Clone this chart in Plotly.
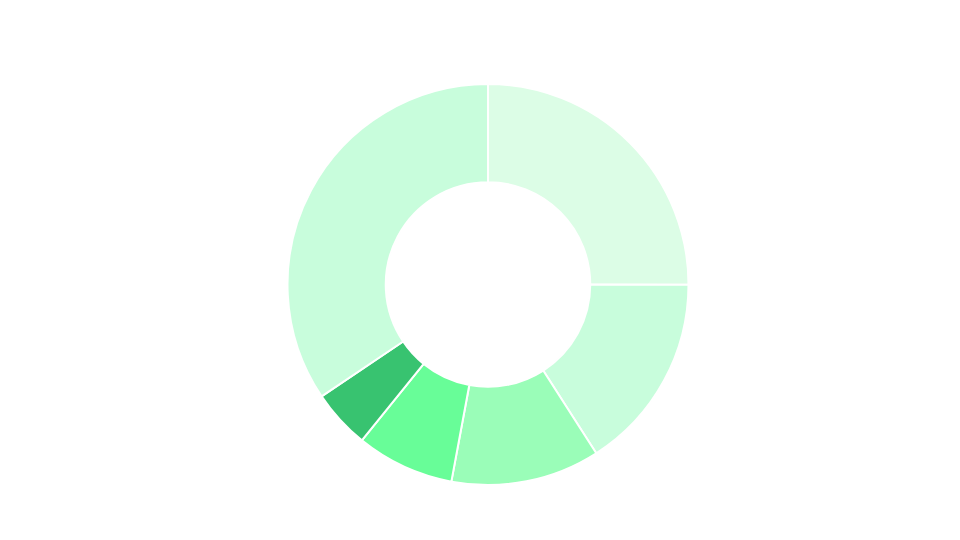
import plotly.graph_objects as go

labels = ["A", "B", "C", "D", "E", "F"]
values = [25.0, 15.9, 12.0, 7.9, 4.75, 34.4]
colors = ["#dcfde6", "#c8fddc", "#9afdb8", "#68fd98", "#38c370", "#c8fddc"]

fig = go.Figure(go.Pie(
    labels=labels, values=values, hole=0.51, sort=False,
    direction="clockwise", rotation=0,
    marker=dict(colors=colors, line=dict(color="white", width=2)),
    textinfo="none", hoverinfo="label+value",
))
fig.update_layout(width=960, height=540, showlegend=False,
                  margin=dict(l=0, r=0, t=76, b=63),
                  paper_bgcolor="white")
fig.write_html("out.html")
